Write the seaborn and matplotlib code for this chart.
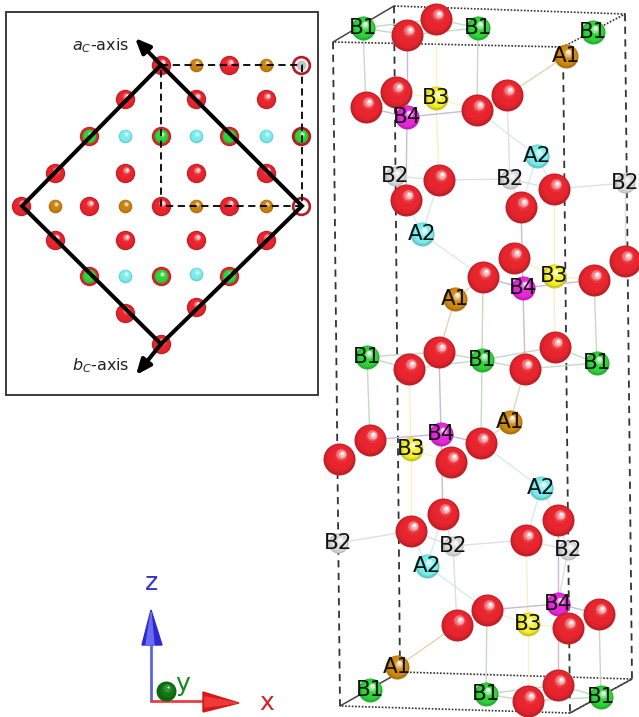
import numpy as np
import matplotlib
matplotlib.use("Agg")
import matplotlib.pyplot as plt
import seaborn as sns

# === left panel: projection along c (pixel positions) ===
panel_red_x = [161, 229, 125, 196, 266, 89, 161, 229, 55, 125, 196, 266,
               21, 89, 161, 229, 55, 125, 196, 266, 89, 161, 229, 125, 196, 161]
panel_red_y = [65, 65, 99, 99, 99, 136, 136, 136, 173, 173, 173, 173,
               206, 206, 206, 206, 240, 240, 240, 240, 276, 276, 276, 313, 307, 344]
panel_ring_x = [301, 301, 301]
panel_ring_y = [65, 136, 206]
panel_orange_x = [196, 266, 55, 125, 196, 266]
panel_orange_y = [65, 65, 206, 206, 206, 206]
panel_cyan_x = [125, 196, 266, 125, 196]
panel_cyan_y = [136, 136, 136, 276, 274]
panel_green_x = [89, 161, 229, 301, 89, 161, 229]
panel_green_y = [136, 136, 136, 136, 276, 276, 276]

diamond_x = [161, 302, 161, 22, 161]
diamond_y = [65, 206, 344, 206, 65]
dash_x = [161, 302, 302, 161, 161]
dash_y = [65, 65, 206, 206, 65]

# === right panel: unit cell ===
# red atoms, back ones first
red_x = [436, 407, 366, 396, 507, 477, 439, 406, 554, 521, 514, 483, 625, 594,
         439, 409, 555, 525, 370, 339, 481, 451, 443, 411, 558, 526, 487, 457, 599, 568, 558, 528]
red_y = [19, 35, 107, 92, 95, 110, 180, 200, 189, 207, 258, 277, 261, 280,
         352, 369, 347, 369, 440, 459, 443, 462, 514, 531, 520, 540, 610, 625, 614, 628, 685, 701]

sites = {
    "B1": ([363, 478, 593, 367, 482, 597, 370, 486, 601], [28, 28, 32, 357, 360, 363, 690, 694, 697]),
    "A1": ([566, 455, 510, 397], [56, 299, 422, 667]),
    "B3": ([436, 554, 411, 528], [98, 276, 449, 624]),
    "B4": ([407, 523, 441, 558], [117, 288, 434, 604]),
    "A2": ([537, 422, 541, 427], [156, 234, 488, 566]),
    "B2": ([395, 510, 625, 338, 453, 568], [176, 179, 183, 543, 546, 550]),
}
site_colors = {"B1": "#2fd43a", "A1": "#d08a10", "B3": "#f6f02a",
               "B4": "#e826dc", "A2": "#7aeeee", "B2": "#dcdcdc"}
bond_colors = {"B1": "#c4dac4", "A1": "#e6d4b4", "B3": "#f3f3c4",
               "B4": "#cdb8d4", "A2": "#d6ecec", "B2": "#e0e0e0"}

# site index -> oxygen neighbours
bonds = {
    "B1": [[(436, 19), (407, 35), (366, 107)], [(436, 19), (407, 35), (477, 110)], [],
           [(439, 352), (409, 369), (370, 440)],
           [(439, 352), (409, 369), (525, 369), (555, 347), (483, 277), (481, 443)],
           [(555, 347), (525, 369), (594, 280)], [],
           [(558, 685), (528, 701), (487, 610)], [(558, 685), (528, 701), (599, 614)]],
    "A1": [[(507, 95)], [(483, 277), (439, 352)], [(525, 369), (481, 443)], [(457, 625)]],
    "B3": [[(436, 19), (439, 180), (396, 92), (477, 110)], [(554, 189), (555, 347), (514, 258), (594, 280)],
           [(409, 369), (411, 531), (370, 440), (451, 462)], [(526, 540), (528, 701), (487, 610), (568, 628)]],
    "B4": [[(407, 35), (406, 200), (366, 107), (477, 110)], [(521, 207), (525, 369), (483, 277), (594, 280)],
           [(439, 352), (443, 514), (370, 440), (481, 443)], [(558, 520), (558, 685), (487, 610), (599, 614)]],
    "A2": [[(477, 110), (554, 189), (521, 207)], [(439, 180), (483, 277), (406, 200)],
           [(481, 443), (526, 540), (558, 520)], [(411, 531), (443, 514), (487, 610)]],
    "B2": [[(439, 180), (406, 200)], [(439, 180), (554, 189), (521, 207), (507, 95)], [(554, 189), (625, 261)],
           [(411, 531)], [(411, 531), (526, 540), (443, 514), (457, 625)],
           [(526, 540), (558, 520), (558, 604)]],
}

cell_top_x = [333, 394, 625, 563, 333]
cell_top_y = [42, 6, 14, 47, 42]
cell_bot_x = [340, 400, 632, 570, 340]
cell_bot_y = [706, 672, 679, 713, 706]

sns.set_theme(style="white")
plt.rcParams["font.family"] = ["DejaVu Sans"]

fig = plt.figure(figsize=(6.39, 7.17), dpi=100)
ax = fig.add_axes([0, 0, 1, 1])
ax.set_xlim(0, 639)
ax.set_ylim(717, 0)
ax.axis("off")
ax.set_autoscale_on(False)


def spheres(xs, ys, color, r, z=3, n=9):
    # fake 3D shading: stacked discs moving toward the highlight
    edge = sns.blend_palette([color, "#000000"], 7)[1]
    light = sns.blend_palette([color, "#ffffff"], 5)[2]
    pal = sns.blend_palette([edge, color, color, color, light, "#ffffff"], n)
    for i in range(n):
        t = i / (n - 1)
        rad = r * (1 - 0.9 * t)
        size = (2 * rad * 0.72) ** 2
        sns.scatterplot(x=np.array(xs) + 0.2 * r * t, y=np.array(ys) - 0.38 * r * t,
                        s=size, color=pal[i], linewidth=0, legend=False, ax=ax, zorder=z)


# --- left panel ---
ax.add_patch(plt.Rectangle((5.5, 11.5), 312.5, 383.5, fill=False, ec="#3a3a3a", lw=1.4, zorder=1))
spheres(panel_red_x, panel_red_y, "#e8252e", 9.7, z=2)
spheres(panel_ring_x, panel_ring_y, "#d9202c", 9.7, z=2, n=3)
sns.scatterplot(x=panel_ring_x[0::2], y=panel_ring_y[0::2], s=(2 * 7 * 0.72) ** 2, color="white",
                linewidth=0, legend=False, ax=ax, zorder=2.5)
sns.scatterplot(x=panel_ring_x[:1], y=panel_ring_y[:1], s=(2 * 5 * 0.72) ** 2, color="#c4c4c4",
                linewidth=0, legend=False, ax=ax, zorder=2.6)
spheres(panel_orange_x, panel_orange_y, "#c9820f", 6.8, z=3)
spheres(panel_cyan_x, panel_cyan_y, "#7aeeee", 6.8, z=3)
spheres(panel_green_x, panel_green_y, "#2fd43a", 7, z=3)

ax.plot(dash_x, dash_y, color="black", lw=1.3, ls=(0, (4, 2.5)), zorder=4)
ax.plot(diamond_x, diamond_y, color="black", lw=2.9, solid_joinstyle="miter", zorder=5)
ax.annotate("", xy=(135, 38), xytext=(161, 65), zorder=5,
            arrowprops=dict(arrowstyle="-|>,head_length=0.75,head_width=0.32", color="black", lw=2.9,
                            shrinkA=0, shrinkB=0))
ax.annotate("", xy=(136, 375), xytext=(161, 344), zorder=5,
            arrowprops=dict(arrowstyle="-|>,head_length=0.75,head_width=0.32", color="black", lw=2.9,
                            shrinkA=0, shrinkB=0))
ax.text(72, 46, "$a_C$-axis", fontsize=11.5, color="#222222", va="center", ha="left", zorder=6)
ax.text(72, 366, "$b_C$-axis", fontsize=11.5, color="#222222", va="center", ha="left", zorder=6)

# --- right panel: cell edges ---
ax.plot(cell_top_x[1:4], cell_top_y[1:4], color="#333333", lw=1.2, ls=(0, (1, 1)), zorder=1)
ax.plot(cell_top_x[3:], cell_top_y[3:], color="#333333", lw=1.2, ls=(0, (1, 1)), zorder=1)
ax.plot(cell_top_x[:2], cell_top_y[:2], color="#444444", lw=1.1, zorder=1)
ax.plot(cell_bot_x[1:4], cell_bot_y[1:4], color="#333333", lw=1.2, ls=(0, (1, 1)), zorder=1)
ax.plot(cell_bot_x[3:], cell_bot_y[3:], color="#333333", lw=1.2, ls=(0, (1, 1)), zorder=1)
ax.plot(cell_bot_x[:2], cell_bot_y[:2], color="#444444", lw=1.1, zorder=1)
ax.plot([cell_bot_x[2], cell_bot_x[3]], [cell_bot_y[2], cell_bot_y[3]], color="#444444", lw=1.1, zorder=1)
for i in range(4):
    ax.plot([cell_top_x[i], cell_bot_x[i]], [cell_top_y[i], cell_bot_y[i]], color="#333333",
            lw=1.3, ls=(0, (4, 3)), zorder=1)

# bonds
for name, (xs, ys) in sites.items():
    for x0, y0, targets in zip(xs, ys, bonds[name]):
        for x1, y1 in targets:
            ax.plot([x0, x1], [y0, y1], color=bond_colors[name], lw=1.0, zorder=1.5)

# atoms
for name, (xs, ys) in sites.items():
    spheres(xs, ys, site_colors[name], 12 if name != "B2" else 10, z=2)
for k, (x, y) in enumerate(zip(red_x, red_y)):
    spheres([x], [y], "#e8252e", 16, z=3 + k * 0.01, n=9)

for name, (xs, ys) in sites.items():
    for x, y in zip(xs, ys):
        ax.text(x, y, name, fontsize=15.5, color="#111111", ha="center", va="center", zorder=8)

# --- axes triad ---
z_cone_x = [151, 142, 162]
z_cone_y = [610, 645, 645]
x_cone_x = [239, 203, 203]
x_cone_y = [703, 692, 712]
ax.plot([151, 151], [701, 640], color="#5566e0", lw=2, zorder=2)
ax.plot([151, 206], [701, 701], color="#e84040", lw=2, zorder=2)
ax.fill(z_cone_x, z_cone_y, color="#2a2ad0", zorder=3)
ax.fill([151, 146, 154], [612, 645, 645], color="#6a6af0", zorder=3.1)
ax.fill(x_cone_x, x_cone_y, color="#d61818", zorder=3)
ax.fill([237, 205, 205], [703, 697, 707], color="#f03a3a", zorder=3.1)
spheres([166], [691], "#0f7a12", 10, z=3.2, n=4)
ax.text(151, 583, "z", fontsize=18, color="#3434c8", ha="center", va="center", zorder=4)
ax.text(183, 684, "y", fontsize=18, color="#118a20", ha="center", va="center", zorder=4)
ax.text(267, 703, "x", fontsize=18, color="#d8202a", ha="center", va="center", zorder=4)

fig.savefig("out.png", dpi=100)
